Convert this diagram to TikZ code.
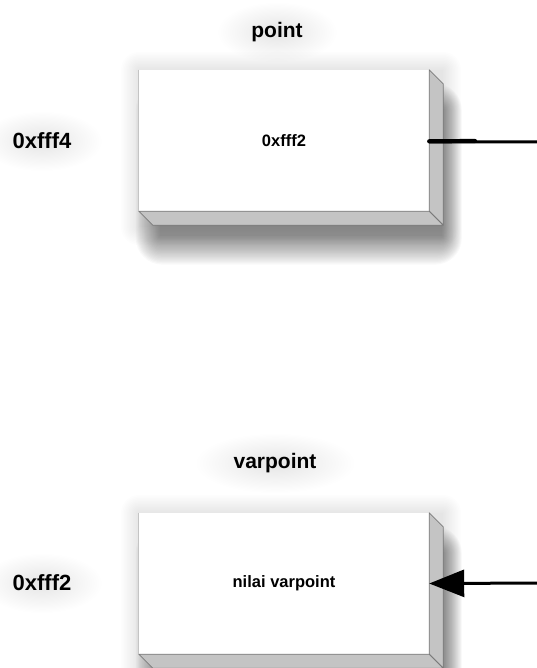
\documentclass[tikz,border=0pt]{standalone}
\usepackage{fontspec}
\setmainfont{Liberation Sans}
\usetikzlibrary{arrows.meta,calc,fadings}
\tikzfading[name=glowfade, inner color=transparent!0, outer color=transparent!100]
\definecolor{sidegray}{HTML}{C4C4C4}
\definecolor{edgegray}{HTML}{7A7A7A}
\tikzset{
  front/.style={fill=white, draw=none, inner sep=0pt, minimum width=290pt, minimum height=141pt,
    font=\bfseries\fontsize{16.5}{18}\selectfont},
  side/.style={fill=sidegray, draw=edgegray, line width=0.8pt, line join=round},
  title/.style={font=\bfseries\fontsize{21}{23}\selectfont, inner sep=2pt},
  addr/.style={font=\bfseries\fontsize{22}{24}\selectfont, inner sep=2pt},
  wire/.style={line width=3pt, black},
  glow/.style={fill=black, opacity=0.10, path fading=glowfade},
  shadowlayer/.style={fill=black, opacity=0.022},
  hazelayer/.style={fill=black, opacity=0.008}
}
\begin{document}
\begin{tikzpicture}[x=1pt,y=-1pt]
\useasboundingbox (0,0) rectangle (537,668);
% soft glows behind labels
\foreach \cx/\cy/\w in {277/32/60, 42/141/60, 275/463/80, 42/583/60}{
  \fill[glow] (\cx,\cy) ellipse (\w pt and 30pt);
}
% faint haze around boxes and soft shadows under them
\foreach \ty in {0,443}{
  \foreach \i in {0,...,12}{
    \fill[hazelayer, rounded corners={\i*1.5pt}]
      (139-\i*1.5,{\ty+70-\i*1.5}) rectangle (443+\i*1.5,{\ty+227+\i*1.5});
  }
  \foreach \i in {0,...,22}{
    \fill[shadowlayer, rounded corners={\i*1.2pt}]
      (160-\i*1.1,{\ty+110-\i*1.2}) rectangle (442+\i*0.9,{\ty+236+\i*1.3});
  }
}
% top box
\node[front] (p) at (284,140.5) {0xfff2};
\draw[side] (p.north east) -- ++(14,14) -- ($(p.south east)+(14,14)$) -- (p.south east) -- cycle;
\draw[side] (p.south west) -- ++(14,14) -- ($(p.south east)+(14,14)$) -- (p.south east) -- cycle;
\draw[sidegray, line width=1pt] (p.north west) -- (p.south west);
% bottom box
\node[front] (q) at (284,583.5) {nilai varpoint};
\draw[side] (q.north east) -- ++(14,14) -- ($(q.south east)+(14,14)$) -- (q.south east) -- cycle;
\draw[side] (q.south west) -- ++(14,14) -- ($(q.south east)+(14,14)$) -- (q.south east) -- cycle;
\draw[sidegray, line width=1pt] (q.north west) -- (q.south west);
% labels
\node[title] (tp) at (277,32) {point};
\node[title] (tv) at (275,463) {varpoint};
\node[addr] (ap) at (42,141) {0xfff4};
\node[addr] (aq) at (42,583) {0xfff2};
% connector
\coordinate (c1) at (548,142);
\coordinate (c2) at (548,583);
\coordinate (k) at (475,141);
\draw[wire, -{Triangle[length=35pt,width=27pt]}] ([yshift=-1.5pt]p.east) -- (c1) -- (c2) -- (q.east);
\draw[line width=4.2pt, line cap=round] ([yshift=-0.8pt]p.east) -- (k);
\end{tikzpicture}
\end{document}
